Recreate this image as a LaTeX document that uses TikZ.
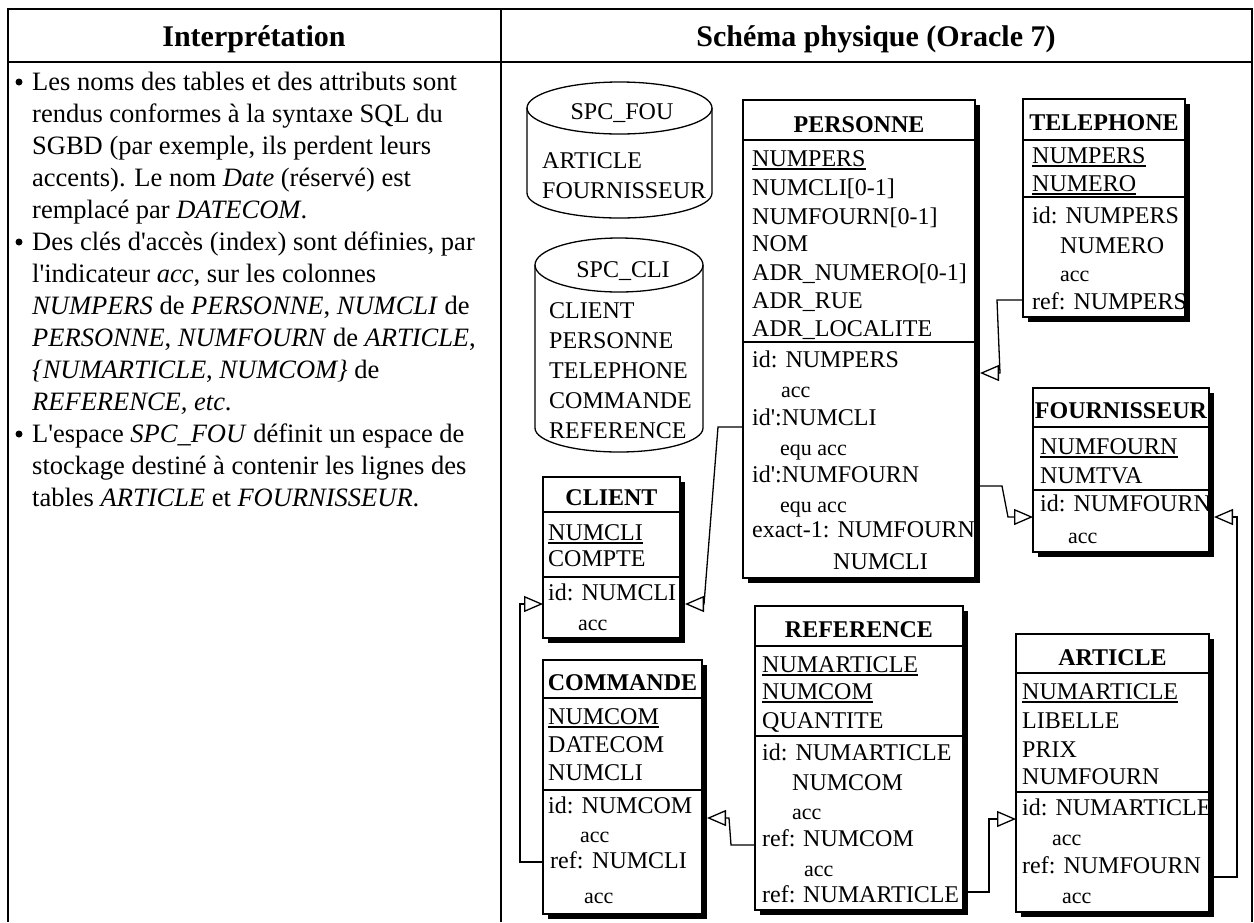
\documentclass[tikz,border=0pt]{standalone}
\usepackage{fontspec}
\setmainfont{Liberation Serif}
\usetikzlibrary{arrows.meta,shadows}
\newcommand\fsz[1]{\fontsize{#1}{#1}\selectfont}
% primary-key attribute: thick rule under the name
\newcommand\pkey[1]{\setbox0=\hbox{#1}\rlap{\rule[-3.5pt]{\wd0}{2pt}}\box0}
\newcommand\apos{\textquotesingle}
\begin{document}
\begin{tikzpicture}[x=1pt,y=-1pt,
  frame/.style={line width=2pt},
  hdr/.style={anchor=base, inner sep=0, font=\bfseries\fsz{30}},
  txt/.style={anchor=base west, inner sep=0, font=\fsz{26.5}},
  dot/.style={circle, fill, inner sep=0, minimum size=7pt},
  tablebox/.style={draw, line width=1.3pt, fill=white, anchor=north west, inner sep=0, outer sep=0,
    drop shadow={shadow xshift=5pt, shadow yshift=-5pt, fill=black, opacity=1}},
  sep/.style={line width=1.3pt},
  ttl/.style={anchor=base, inner sep=0, font=\bfseries\fsz{24}},
  att/.style={anchor=base west, inner sep=0, font=\fsz{24}},
  sml/.style={anchor=base west, inner sep=0, font=\fsz{22}},
  cyl/.style={line width=1.3pt},
  cyltitle/.style={anchor=base, inner sep=0, font=\fsz{24}},
  fk/.style={line width=1.3pt, -{Triangle[open, length=19pt, width=16pt]}}
]
\useasboundingbox (0,0) rectangle (1254,922);
\fill[white] (0,0) rectangle (1254,922);

% outer table
\draw[frame] (8,922) -- (8,9) -- (1252,9) -- (1252,922);
\draw[frame] (8,62) -- (1252,62);
\draw[frame] (501,9) -- (501,922);
\node[hdr] (h1) at (254,46) {Interprétation};
\node[hdr] (h2) at (876,46) {Schéma physique (Oracle 7)};

% left column: comments
\node[dot] (k1) at (19,82) {};
\node[dot] (k2) at (19,242) {};
\node[dot] (k3) at (19,434) {};
\node[txt] (l1) at (32,90) {Les noms des tables et des attributs sont};
\node[txt] (l2) at (32,122) {rendus conformes à la syntaxe SQL du};
\node[txt] (l3) at (32,154) {SGBD (par exemple, ils perdent leurs};
\node[txt] (l4) at (32,186) {accents). Le nom \textit{Date} (réservé) est};
\node[txt] (l5) at (32,218) {remplacé par \textit{DATECOM}.};
\node[txt] (l6) at (32,250) {Des clés d\apos accès (index) sont définies, par};
\node[txt] (l7) at (32,282) {l\apos indicateur \textit{acc}, sur les colonnes};
\node[txt] (l8) at (32,314) {\textit{NUMPERS} de \textit{PERSONNE}, \textit{NUMCLI} de};
\node[txt] (l9) at (32,346) {\textit{PERSONNE}, \textit{NUMFOURN} de \textit{ARTICLE},};
\node[txt] (l10) at (32,378) {\textit{\{NUMARTICLE}, \textit{NUMCOM\}} de};
\node[txt] (l11) at (32,410) {\textit{REFERENCE, etc}.};
\node[txt] (l12) at (32,442) {L\apos espace \textit{SPC\_FOU} définit un espace de};
\node[txt] (l13) at (32,474) {stockage destiné à contenir les lignes des};
\node[txt] (l14) at (32,506) {tables \textit{ARTICLE} et \textit{FOURNISSEUR}.};

% storage spaces
\draw[cyl] (619.5,108) ellipse [x radius=92.5pt, y radius=26pt];
\draw[cyl] (527,108) -- (527,193) arc[start angle=180, end angle=360, x radius=92.5pt, y radius=25pt] -- (712,108);
\node[cyltitle] (s1) at (622,119) {SPC\_FOU};
\node[att] (s2) at (542,168) {ARTICLE};
\node[att] (s3) at (542,198) {FOURNISSEUR};

\draw[cyl] (619,265) ellipse [x radius=84pt, y radius=27pt];
\draw[cyl] (535,265) -- (535,428) arc[start angle=180, end angle=360, x radius=84pt, y radius=24pt] -- (703,265);
\node[cyltitle] (s4) at (623,277) {SPC\_CLI};
\node[att] (s5) at (549,318) {CLIENT};
\node[att] (s6) at (549,348) {PERSONNE};
\node[att] (s7) at (549,378) {TELEPHONE};
\node[att] (s8) at (549,408) {COMMANDE};
\node[att] (s9) at (549,438) {REFERENCE};

% PERSONNE
\node[tablebox, minimum width=232pt, minimum height=478pt] (personne) at (743,100) {};
\draw[sep] (personne.west |- 0,140) -- (personne.east |- 0,140);
\draw[sep] (personne.west |- 0,342) -- (personne.east |- 0,342);
\node[ttl] (p0) at (859,132) {PERSONNE};
\node[att] (p1) at (752,166) {\pkey{NUMPERS}};
\node[att] (p2) at (752,195) {NUMCLI[0-1]};
\node[att] (p3) at (752,224) {NUMFOURN[0-1]};
\node[att] (p4) at (752,251) {NOM};
\node[att] (p5) at (752,280) {ADR\_NUMERO[0-1]};
\node[att] (p6) at (752,308) {ADR\_RUE};
\node[att] (p7) at (752,336) {ADR\_LOCALITE};
\node[att] (p8) at (752,367) {id: NUMPERS};
\node[sml] (p9) at (781,397) {acc};
\node[att] (p10) at (752,425) {id\apos:NUMCLI};
\node[sml] (p11) at (780,455) {equ acc};
\node[att] (p12) at (752,482) {id\apos:NUMFOURN};
\node[sml] (p13) at (780,512) {equ acc};
\node[att] (p14) at (752,537) {exact-1: NUMFOURN};
\node[att] (p15) at (833,569) {NUMCLI};

% TELEPHONE
\node[tablebox, minimum width=162pt, minimum height=218pt] (telephone) at (1023,99) {};
\draw[sep] (telephone.west |- 0,140) -- (telephone.east |- 0,140);
\draw[sep] (telephone.west |- 0,197) -- (telephone.east |- 0,197);
\node[ttl] (t0) at (1104,130) {TELEPHONE};
\node[att] (t1) at (1032,163) {\pkey{NUMPERS}};
\node[att] (t2) at (1032,191) {\pkey{NUMERO}};
\node[att] (t3) at (1032,223) {id: NUMPERS};
\node[att] (t4) at (1060,253) {NUMERO};
\node[sml] (t5) at (1060,281) {acc};
\node[att] (t6) at (1032,309) {ref: NUMPERS};

% FOURNISSEUR
\node[tablebox, minimum width=176pt, minimum height=164pt] (fournisseur) at (1033,388) {};
\draw[sep] (fournisseur.west |- 0,427) -- (fournisseur.east |- 0,427);
\draw[sep] (fournisseur.west |- 0,490) -- (fournisseur.east |- 0,490);
\node[ttl] (f0) at (1121,418) {FOURNISSEUR};
\node[att] (f1) at (1040,454) {\pkey{NUMFOURN}};
\node[att] (f2) at (1040,483) {NUMTVA};
\node[att] (f3) at (1040,511) {id: NUMFOURN};
\node[sml] (f4) at (1068,543) {acc};

% CLIENT
\node[tablebox, minimum width=137pt, minimum height=161pt] (client) at (543,477) {};
\draw[sep] (client.west |- 0,512) -- (client.east |- 0,512);
\draw[sep] (client.west |- 0,577) -- (client.east |- 0,577);
\node[ttl] (c0) at (611.5,505) {CLIENT};
\node[att] (c1) at (548,540) {\pkey{NUMCLI}};
\node[att] (c2) at (548,566) {COMPTE};
\node[att] (c3) at (548,600) {id: NUMCLI};
\node[sml] (c4) at (578,630) {acc};

% COMMANDE
\node[tablebox, minimum width=159pt, minimum height=254pt] (commande) at (543,660) {};
\draw[sep] (commande.west |- 0,698) -- (commande.east |- 0,698);
\draw[sep] (commande.west |- 0,790) -- (commande.east |- 0,790);
\node[ttl] (m0) at (622.5,690) {COMMANDE};
\node[att] (m1) at (548,724) {\pkey{NUMCOM}};
\node[att] (m2) at (548,752) {DATECOM};
\node[att] (m3) at (548,780) {NUMCLI};
\node[att] (m4) at (548,813) {id: NUMCOM};
\node[sml] (m5) at (580,842) {acc};
\node[att] (m6) at (550,868) {ref:};
\node[att] (m7) at (592,868) {NUMCLI};
\node[sml] (m8) at (584,903) {acc};

% REFERENCE
\node[tablebox, minimum width=208pt, minimum height=304pt] (reference) at (755,606) {};
\draw[sep] (reference.west |- 0,646) -- (reference.east |- 0,646);
\draw[sep] (reference.west |- 0,736) -- (reference.east |- 0,736);
\node[ttl] (r0) at (859,637) {REFERENCE};
\node[att] (r1) at (762,672) {\pkey{NUMARTICLE}};
\node[att] (r2) at (762,699) {\pkey{NUMCOM}};
\node[att] (r3) at (762,728) {QUANTITE};
\node[att] (r4) at (762,760) {id: NUMARTICLE};
\node[att] (r5) at (792,790) {NUMCOM};
\node[sml] (r6) at (792,819) {acc};
\node[att] (r7) at (762,846) {ref:};
\node[att] (r8) at (803,846) {NUMCOM};
\node[sml] (r9) at (804,876) {acc};
\node[att] (r10) at (762,902) {ref:};
\node[att] (r11) at (803,902) {NUMARTICLE};

% ARTICLE
\node[tablebox, minimum width=193pt, minimum height=278pt] (article) at (1016,634) {};
\draw[sep] (article.west |- 0,673) -- (article.east |- 0,673);
\draw[sep] (article.west |- 0,792) -- (article.east |- 0,792);
\node[ttl] (a0) at (1112.5,665) {ARTICLE};
\node[att] (a1) at (1022,699) {\pkey{NUMARTICLE}};
\node[att] (a2) at (1022,728) {LIBELLE};
\node[att] (a3) at (1022,757) {PRIX};
\node[att] (a4) at (1022,784) {NUMFOURN};
\node[att] (a5) at (1022,815) {id: NUMARTICLE};
\node[sml] (a6) at (1052,845) {acc};
\node[att] (a7) at (1022,873) {ref: NUMFOURN};
\node[sml] (a8) at (1062,903) {acc};

% outer edges of the drop shadows
\coordinate (personne-r) at ([xshift=5pt]personne.east);
\coordinate (fournisseur-r) at ([xshift=5pt]fournisseur.east);
\coordinate (client-r) at ([xshift=5pt]client.east);
\coordinate (commande-r) at ([xshift=5pt]commande.east);
\coordinate (reference-r) at ([xshift=5pt]reference.east);
\coordinate (article-r) at ([xshift=5pt]article.east);

% foreign keys
\draw[fk] (telephone.west |- 0,300) -- (997,300) -- (1000,373) -- (personne-r |- 0,373);
\draw[fk] (personne-r |- 0,486) -- (1002,486) -- (1008,517) -- (fournisseur.west |- 0,517);
\draw[fk] (article-r |- 0,877) -- (1237,877) -- (1237,517) -- (fournisseur-r |- 0,517);
\draw[fk] (personne.west |- 0,427) -- (718,427) -- (704,604) -- (client-r |- 0,604);
\draw[fk] (commande.west |- 0,862) -- (520,862) -- (520,604) -- (client.west |- 0,604);
\draw[fk] (reference.west |- 0,845) -- (731,845) -- (729,818) -- (commande-r |- 0,818);
\draw[fk] (reference-r |- 0,892) -- (989,892) -- (989,819) -- (article.west |- 0,819);
\end{tikzpicture}
\end{document}
